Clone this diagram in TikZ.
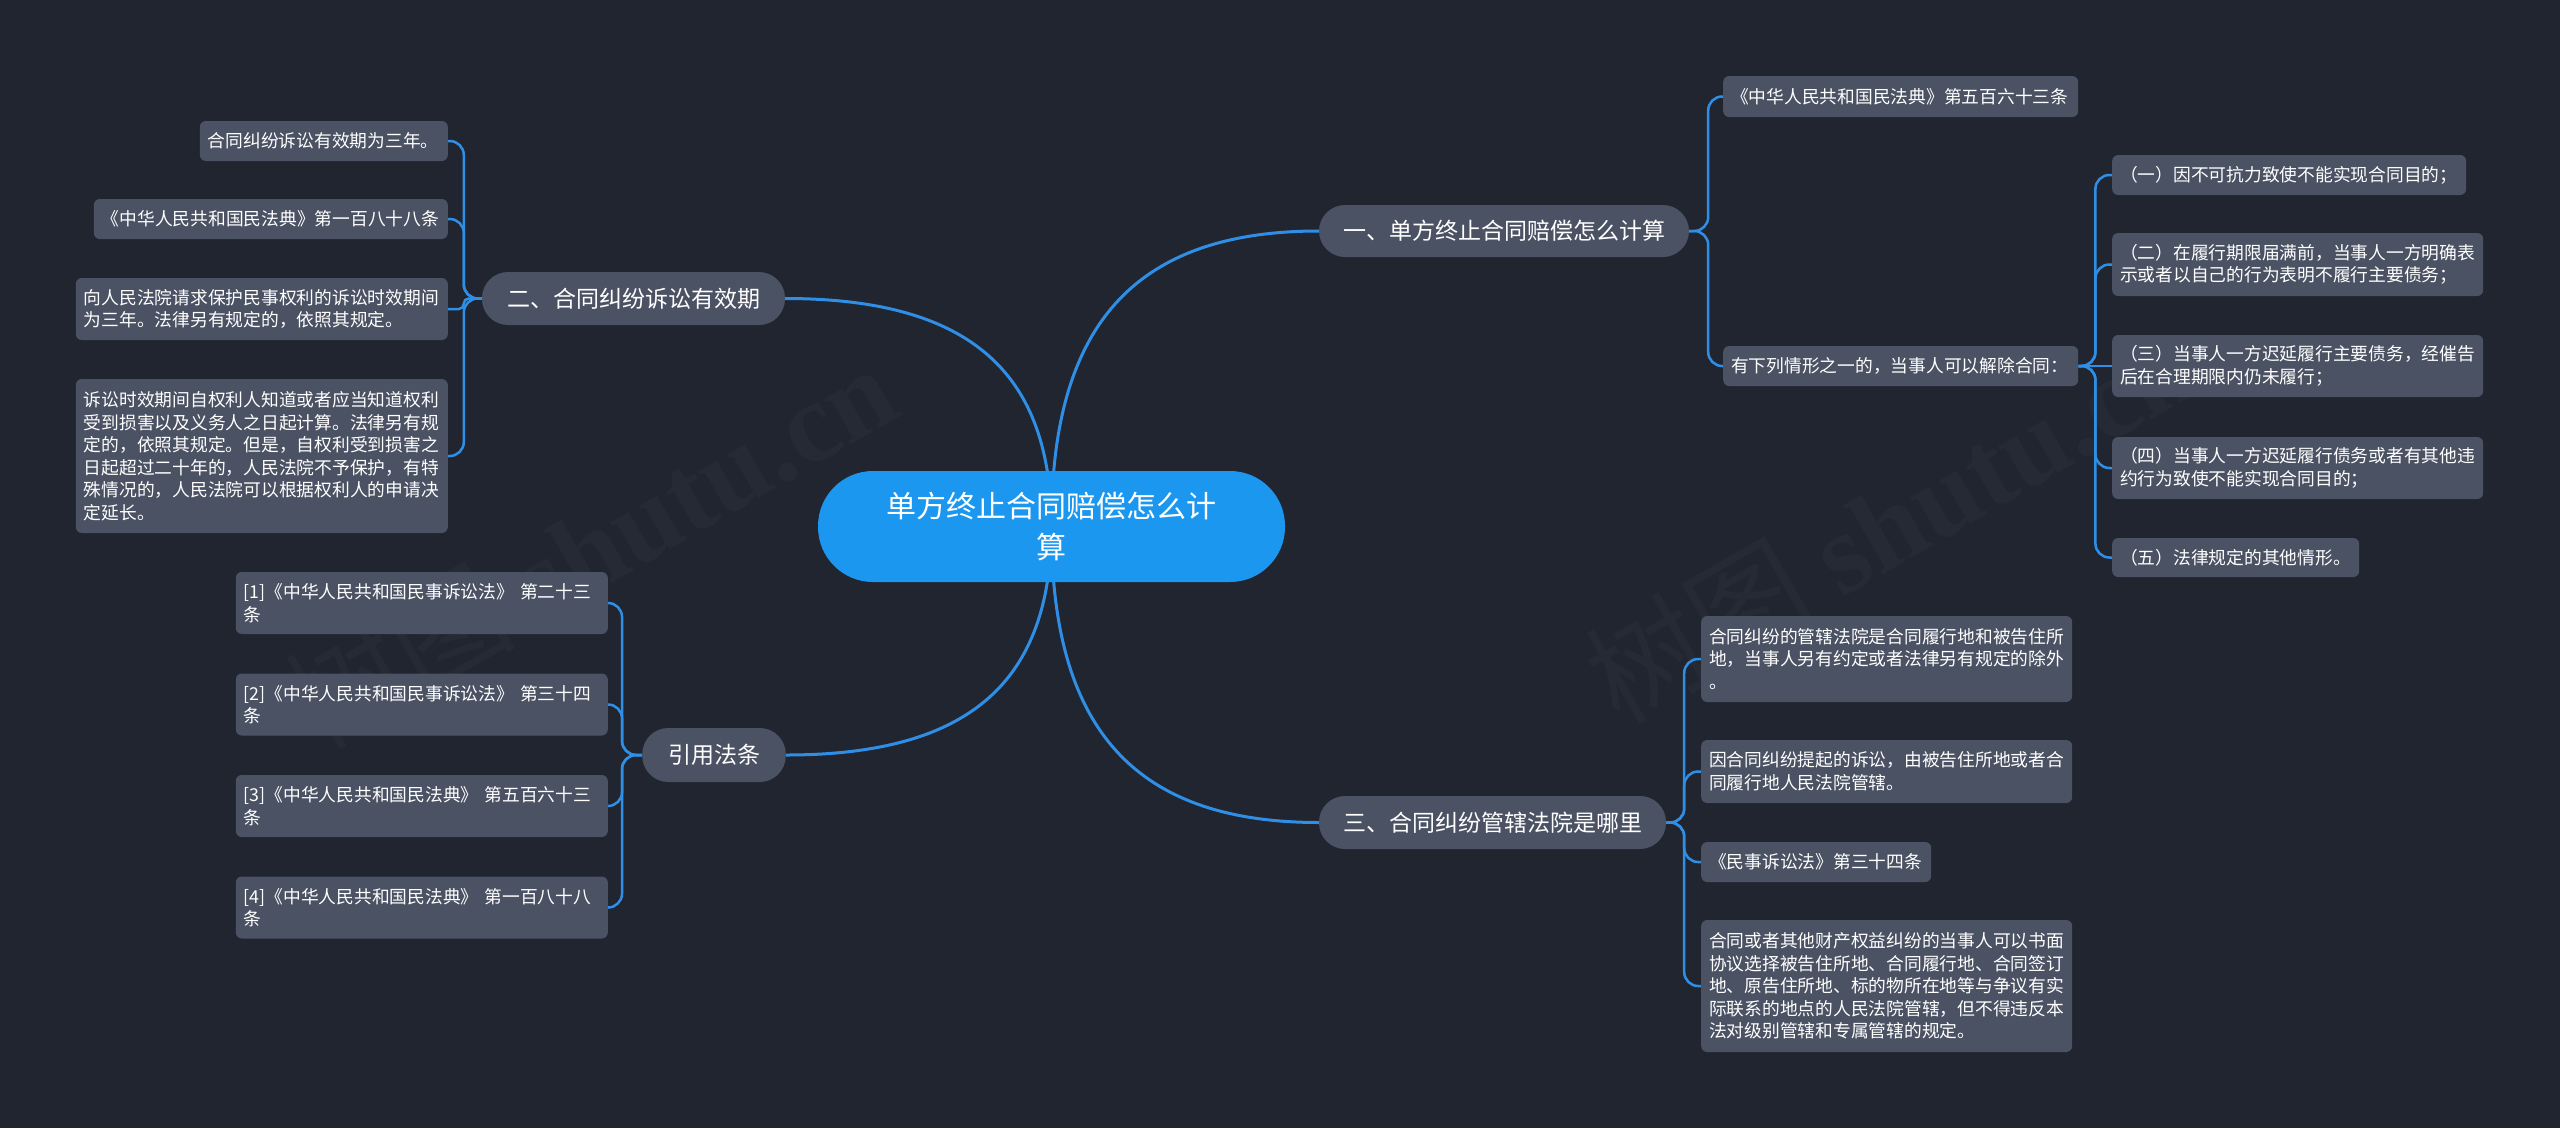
\documentclass[tikz,border=0pt]{standalone}
\usepackage{fontspec}
\newfontfamily\cjk{Noto Sans CJK SC}
\newfontfamily\wmserif{Liberation Serif}
\definecolor{bgc}{HTML}{212530}
\definecolor{boxc}{HTML}{4A5263}
\definecolor{linec}{HTML}{2F8FE6}
\definecolor{rootc}{HTML}{1C97F0}
\definecolor{wmc}{HTML}{262A35}
\pgfdeclarelayer{bglayer}
\pgfdeclarelayer{linelayer}
\pgfsetlayers{bglayer,linelayer,main}
\tikzset{
  leaf/.style={fill=boxc, rounded corners=6pt, text=white, font=\cjk\fontsize{17.75}{22.5}\selectfont, align=left, inner xsep=8pt, inner ysep=0pt},
  branch/.style={fill=boxc, rounded corners=26pt, text=white, font=\cjk\fontsize{23}{28}\selectfont, inner sep=0pt},
  rootnode/.style={fill=rootc, rounded corners=55pt, text=white, font=\cjk\fontsize{30}{41}\selectfont, align=center, inner sep=0pt},
  mainline/.style={draw=linec, line width=3pt},
  subline/.style={draw=linec, line width=2.5pt, rounded corners=14pt},
  wmark/.style={text=wmc, rotate=30, font=\cjk\fontsize{115}{120}\selectfont},
}
\begin{document}
\begin{tikzpicture}[x=1pt,y=-1pt]
\begin{pgfonlayer}{bglayer}
\fill[bgc] (0,0) rectangle (2560,1128);
\node[wmark] (wm1) at (590,545) {树图 {\wmserif\bfseries shutu.cn}};
\node[wmark] (wm2) at (1890,520) {树图 {\wmserif\bfseries shutu.cn}};
\end{pgfonlayer}
\useasboundingbox (0,0) rectangle (2560,1128);

% root
\node[rootnode, minimum width=467pt, minimum height=111pt] (root) at (1051.5,526.5) {单方终止合同赔偿怎么计\\算};

% branches
\node[branch, minimum width=370pt, minimum height=52pt] (n1) at (1504,231) {一、单方终止合同赔偿怎么计算};
\node[branch, minimum width=303pt, minimum height=53pt] (n2) at (633.5,298.5) {二、合同纠纷诉讼有效期};
\node[branch, minimum width=143.5pt, minimum height=54pt] (nR) at (714,755) {引用法条};
\node[branch, minimum width=347pt, minimum height=53pt] (n3) at (1492.5,822.5) {三、合同纠纷管辖法院是哪里};

% left group (二)
\node[leaf, anchor=east, text width=232pt, minimum height=40pt] (L1) at (448,141) {合同纠纷诉讼有效期为三年。};
\node[leaf, anchor=east, text width=338pt, minimum height=40pt] (L2) at (448,219) {《中华人民共和国民法典》第一百八十八条};
\node[leaf, anchor=east, text width=356pt, minimum height=62pt] (L3) at (448,309) {向人民法院请求保护民事权利的诉讼时效期间\\为三年。法律另有规定的，依照其规定。};
\node[leaf, anchor=east, text width=356pt, minimum height=154pt] (L4) at (448,456) {诉讼时效期间自权利人知道或者应当知道权利\\受到损害以及义务人之日起计算。法律另有规\\定的，依照其规定。但是，自权利受到损害之\\日起超过二十年的，人民法院不予保护，有特\\殊情况的，人民法院可以根据权利人的申请决\\定延长。};

% citations
\node[leaf, anchor=east, text width=356pt, minimum height=62pt] (R1) at (608,603) {[1]《中华人民共和国民事诉讼法》 第二十三\\条};
\node[leaf, anchor=east, text width=356pt, minimum height=62pt] (R2) at (608,704.5) {[2]《中华人民共和国民事诉讼法》 第三十四\\条};
\node[leaf, anchor=east, text width=356pt, minimum height=62pt] (R3) at (608,806) {[3]《中华人民共和国民法典》 第五百六十三\\条};
\node[leaf, anchor=east, text width=356pt, minimum height=62pt] (R4) at (608,907.5) {[4]《中华人民共和国民法典》 第一百八十八\\条};

% right top (一)
\node[leaf, anchor=west, text width=339pt, minimum height=41pt] (A1) at (1723,96.5) {《中华人民共和国民法典》第五百六十三条};
\node[leaf, anchor=west, text width=339pt, minimum height=40pt] (A2) at (1723,366) {有下列情形之一的，当事人可以解除合同：};
\node[leaf, anchor=west, text width=338pt, minimum height=40pt] (B1) at (2112,175) {（一）因不可抗力致使不能实现合同目的；};
\node[leaf, anchor=west, text width=355pt, minimum height=63pt] (B2) at (2112,264.5) {（二）在履行期限届满前，当事人一方明确表\\示或者以自己的行为表明不履行主要债务；};
\node[leaf, anchor=west, text width=355pt, minimum height=62pt] (B3) at (2112,366) {（三）当事人一方迟延履行主要债务，经催告\\后在合理期限内仍未履行；};
\node[leaf, anchor=west, text width=355pt, minimum height=62pt] (B4) at (2112,468) {（四）当事人一方迟延履行债务或者有其他违\\约行为致使不能实现合同目的；};
\node[leaf, anchor=west, text width=231pt, minimum height=39pt] (B5) at (2112,557.5) {（五）法律规定的其他情形。};

% right bottom (三)
\node[leaf, anchor=west, text width=355pt, minimum height=86pt] (C1) at (1701,659) {合同纠纷的管辖法院是合同履行地和被告住所\\地，当事人另有约定或者法律另有规定的除外\\。};
\node[leaf, anchor=west, text width=355pt, minimum height=63pt] (C2) at (1701,771.5) {因合同纠纷提起的诉讼，由被告住所地或者合\\同履行地人民法院管辖。};
\node[leaf, anchor=west, text width=214pt, minimum height=40pt] (C3) at (1701,862) {《民事诉讼法》第三十四条};
\node[leaf, anchor=west, text width=355pt, minimum height=132pt] (C4) at (1701,986) {合同或者其他财产权益纠纷的当事人可以书面\\协议选择被告住所地、合同履行地、合同签订\\地、原告住所地、标的物所在地等与争议有实\\际联系的地点的人民法院管辖，但不得违反本\\法对级别管辖和专属管辖的规定。};

\begin{pgfonlayer}{linelayer}
% main connectors
\draw[mainline] (root.center) .. controls (1051,330) and (1130,231) .. (n1.west);
\draw[mainline] (root.center) .. controls (1051,375) and (973,298.5) .. (n2.east);
\draw[mainline] (root.center) .. controls (1051,679) and (973,755) .. (nR.east);
\draw[mainline] (root.center) .. controls (1051,724) and (1130,822.5) .. (n3.west);
% 二 group
\draw[subline] (n2.west) -- ++(-18,0) |- (L1.east);
\draw[subline] (n2.west) -- ++(-18,0) |- (L2.east);
\draw[subline, rounded corners=5pt] (n2.west) -- ++(-18,0) |- (L3.east);
\draw[subline] (n2.west) -- ++(-18,0) |- (L4.east);
% 引用 group
\draw[subline] (nR.west) -- ++(-20,0) |- (R1.east);
\draw[subline] (nR.west) -- ++(-20,0) |- (R2.east);
\draw[subline] (nR.west) -- ++(-20,0) |- (R3.east);
\draw[subline] (nR.west) -- ++(-20,0) |- (R4.east);
% 一 group
\draw[subline] (n1.east) -- ++(19,0) |- (A1.west);
\draw[subline] (n1.east) -- ++(19,0) |- (A2.west);
% 有下列 group
\draw[subline] (A2.east) -- ++(17,0) |- (B1.west);
\draw[subline] (A2.east) -- ++(17,0) |- (B2.west);
\draw[subline] (A2.east) -- (B3.west);
\draw[subline] (A2.east) -- ++(17,0) |- (B4.west);
\draw[subline] (A2.east) -- ++(17,0) |- (B5.west);
% 三 group
\draw[subline] (n3.east) -- ++(18,0) |- (C1.west);
\draw[subline] (n3.east) -- ++(18,0) |- (C2.west);
\draw[subline] (n3.east) -- ++(18,0) |- (C3.west);
\draw[subline] (n3.east) -- ++(18,0) |- (C4.west);
\end{pgfonlayer}
\end{tikzpicture}
\end{document}
